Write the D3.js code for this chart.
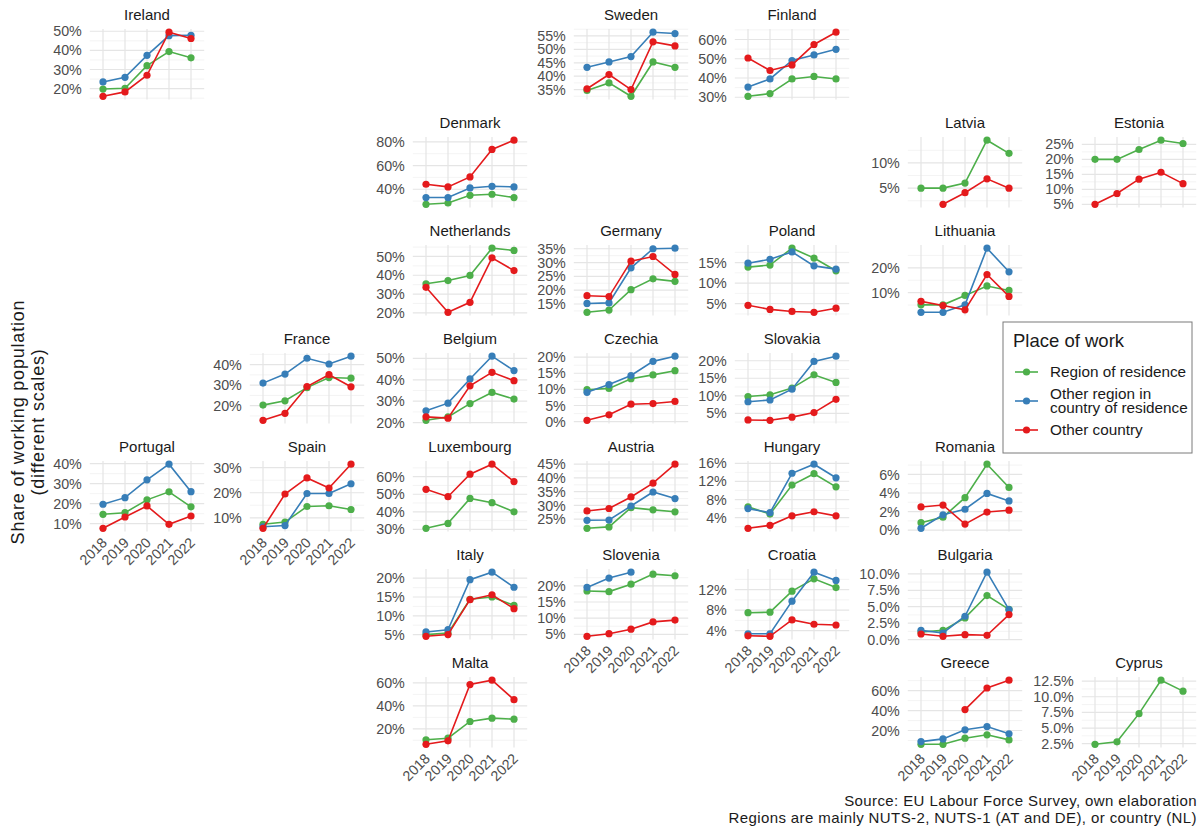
<!DOCTYPE html>
<html>
<head>
<meta charset="utf-8">
<script src="https://cdn.jsdelivr.net/npm/d3@7"></script>
<style>
  body { margin: 0; background: #fff; }
  text { font-family: "Liberation Sans", Arial, sans-serif; }
</style>
</head>
<body>
<div id="chart"></div>
<script>
// ---- data ----
const years = ["2018", "2019", "2020", "2021", "2022"];
const seriesNames = ["Region of residence", "Other region in country of residence", "Other country"];

const countries = ["Ireland", "Sweden", "Finland", "Denmark", "Latvia", "Estonia", "Netherlands", "Germany",
    "Poland", "Lithuania", "France", "Belgium", "Czechia", "Slovakia", "Portugal", "Spain", "Luxembourg",
    "Austria", "Hungary", "Romania", "Italy", "Slovenia", "Croatia", "Bulgaria", "Malta", "Greece", "Cyprus"];

// geofacet grid (column, row) for each country
const gridCol = [0, 3, 4, 2, 5, 6, 2, 3, 4, 5, 1, 2, 3, 4, 0, 1, 2, 3, 4, 5, 2, 3, 4, 5, 2, 5, 6];
const gridRow = [0, 0, 0, 1, 1, 1, 2, 2, 2, 2, 3, 3, 3, 3, 4, 4, 4, 4, 4, 4, 5, 5, 5, 5, 6, 6, 6];

// share (%) working in region of residence
const regionOfResidence = [
    [19.8, 20.2, 32.0, 39.4, 36.1],   // Ireland
    [34.7, 37.5, 32.5, 45.3, 43.3],   // Sweden
    [30.5, 31.9, 39.5, 40.8, 39.5],   // Finland
    [27.3, 28.4, 34.9, 35.8, 33.0],   // Denmark
    [5.0, 5.0, 6.0, 14.5, 11.9],      // Latvia
    [20.0, 20.0, 23.3, 26.4, 25.3],   // Estonia
    [35.5, 37.2, 39.9, 54.4, 53.2],   // Netherlands
    [12.0, 12.8, 20.2, 24.1, 23.2],   // Germany
    [13.9, 14.4, 18.5, 16.1, 13.0],   // Poland
    [5.1, 5.1, 8.9, 12.7, 10.9],      // Lithuania
    [20.3, 22.4, 28.8, 33.7, 33.4],   // France
    [21.1, 22.7, 28.9, 34.1, 31.0],   // Belgium
    [9.9, 10.3, 13.3, 14.5, 15.8],    // Czechia
    [9.8, 10.3, 12.2, 16.0, 13.8],    // Slovakia
    [14.7, 15.5, 21.9, 25.9, 18.4],   // Portugal
    [7.4, 8.3, 14.5, 14.8, 13.3],     // Spain
    [30.6, 33.4, 47.6, 45.2, 40.0],   // Luxembourg
    [21.7, 22.2, 29.2, 28.4, 27.7],   // Austria
    [6.4, 4.8, 11.2, 13.7, 10.8],     // Hungary
    [0.8, 1.4, 3.5, 7.1, 4.6],        // Romania
    [5.0, 5.4, 14.4, 15.0, 12.8],     // Italy
    [18.4, 18.2, 20.5, 23.6, 23.1],   // Slovenia
    [7.5, 7.6, 11.7, 14.1, 12.4],     // Croatia
    [1.15, 1.4, 3.3, 6.7, 4.6],       // Bulgaria
    [10.4, 11.8, 26.4, 29.3, 28.4],   // Malta
    [6.2, 6.2, 12.3, 15.7, 10.6],     // Greece
    [2.4, 2.8, 7.3, 12.65, 10.9]      // Cyprus
];

// share (%) working in another region of the country of residence
const otherRegion = [
    [23.5, 25.9, 37.4, 47.7, 47.9],
    [43.3, 45.3, 47.3, 56.4, 55.9],
    [35.3, 39.5, 49.1, 52.0, 54.9],
    [33.0, 33.0, 41.1, 42.5, 42.0],
    null,
    null,
    null,
    [15.2, 15.4, 28.1, 35.0, 35.2],
    [14.85, 15.8, 17.6, 14.2, 13.4],
    [2.1, 2.1, 5.1, 27.9, 18.4],
    [31.0, 35.4, 43.1, 40.3, 44.1],
    [25.5, 29.1, 40.4, 51.0, 44.3],
    [9.1, 11.5, 14.3, 18.7, 20.3],
    [8.3, 8.8, 11.9, 19.8, 21.3],
    [19.7, 23.0, 31.9, 39.7, 26.0],
    [6.4, 6.9, 19.7, 19.7, 23.6],
    null,
    [24.6, 24.7, 29.8, 34.9, 32.5],
    [6.0, 5.1, 13.8, 15.8, 12.8],
    [0.2, 1.65, 2.25, 3.95, 3.15],
    [5.7, 6.3, 19.6, 21.6, 17.6],
    [19.5, 22.4, 24.2, null, null],
    [3.4, 3.4, 9.75, 15.4, 13.8],
    [1.4, 1.0, 3.55, 10.25, 4.55],
    null,
    [8.9, 11.6, 20.7, 24.0, 16.7],
    null
];

// share (%) working in another country
const otherCountry = [
    [16.0, 18.3, 27.0, 49.5, 46.2],
    [35.3, 40.6, 35.0, 52.8, 51.3],
    [50.4, 43.9, 46.8, 57.4, 63.8],
    [44.2, 42.0, 50.4, 73.6, 81.4],
    [null, 1.8, 4.1, 6.85, 5.0],
    [5.0, 8.6, 13.4, 15.7, 11.9],
    [33.6, 20.3, 25.6, 49.3, 42.5],
    [18.0, 17.7, 30.5, 32.2, 25.7],
    [4.6, 3.6, 3.1, 2.9, 3.9],
    [6.5, 4.8, 3.1, 17.3, 8.5],
    [12.9, 16.3, 29.3, 35.1, 29.2],
    [22.7, 22.1, 37.2, 43.5, 39.6],
    [0.4, 2.1, 5.4, 5.6, 6.25],
    [3.1, 3.0, 3.9, 5.2, 9.0],
    [7.7, 13.35, 18.85, 9.7, 13.85],
    [5.8, 19.5, 25.9, 21.9, 31.4],
    [52.8, 48.6, 61.4, 67.1, 57.2],
    [28.0, 28.9, 33.1, 38.1, 45.0],
    [1.65, 2.3, 4.4, 5.3, 4.4],
    [2.5, 2.7, 0.65, 1.95, 2.15],
    [4.55, 5.0, 14.3, 15.6, 11.9],
    [4.4, 5.2, 6.6, 8.85, 9.4],
    [3.0, 2.9, 6.1, 5.25, 5.1],
    [0.85, 0.5, 0.75, 0.65, 3.8],
    [6.5, 9.5, 58.6, 62.4, 45.4],
    [null, null, 41.0, 62.6, 70.4],
    null
];

// y tick labels (%) of each panel
const yTicks = [
    [20, 30, 40, 50], [35, 40, 45, 50, 55], [30, 40, 50, 60], [40, 60, 80], [5, 10],
    [5, 10, 15, 20, 25], [20, 30, 40, 50], [15, 20, 25, 30, 35], [5, 10, 15], [10, 20],
    [20, 30, 40], [20, 30, 40, 50], [0, 5, 10, 15, 20], [5, 10, 15, 20], [10, 20, 30, 40],
    [10, 20, 30], [30, 40, 50, 60], [25, 30, 35, 40, 45], [4, 8, 12, 16], [0, 2, 4, 6],
    [5, 10, 15, 20], [5, 10, 15, 20], [4, 8, 12], [0, 2.5, 5, 7.5, 10], [20, 40, 60],
    [20, 40, 60], [2.5, 5, 7.5, 10, 12.5]
];

// ---- layout ----
const colors = ["#4DAF4A", "#377EB8", "#E41A1C"];
const colLeft = [89.8, 249.8, 412.8, 573.8, 734.8, 907.8, 1081.8];
const panelW = 114.4, panelH = 70.5, rowTop = 29, rowStep = 108;

const svg = d3.select("#chart").append("svg")
    .attr("width", 1201)
    .attr("height", 829);

const allSeries = [regionOfResidence, otherRegion, otherCountry];

countries.forEach((name, i) => {
    let c = gridCol[i], r = gridRow[i];
    let left = colLeft[c], top = rowTop + r * rowStep;

    let g = svg.append("g").attr("transform", `translate(${left},${top})`);

    let x = d3.scalePoint().domain(years).range([0, panelW]).padding(0.6);

    // free y scale, 5% expansion like ggplot
    let vals = [];
    allSeries.forEach(s => { if (s[i]) s[i].forEach(v => { if (v != null) vals.push(v); }); });
    let ext = d3.extent(vals);
    let pad = (ext[1] - ext[0]) * 0.05;
    let y = d3.scaleLinear().domain([ext[0] - pad, ext[1] + pad]).range([panelH, 0]);

    let ticks = yTicks[i];
    let step = ticks[1] - ticks[0];
    let minor = [];
    for (let k = -1; k < ticks.length; k++) {
        let m = (k < 0 ? ticks[0] - step / 2 : ticks[k] + step / 2);
        if (m >= y.domain()[0] && m <= y.domain()[1]) minor.push(m);
    }

    // grid
    g.selectAll(".minor").data(minor).enter().append("line")
        .attr("x1", 0).attr("x2", panelW)
        .attr("y1", d => y(d)).attr("y2", d => y(d))
        .attr("stroke", "#ececec").attr("stroke-width", 0.6);
    g.selectAll(".major").data(ticks).enter().append("line")
        .attr("x1", 0).attr("x2", panelW)
        .attr("y1", d => y(d)).attr("y2", d => y(d))
        .attr("stroke", "#e5e5e5").attr("stroke-width", 1.2);
    g.selectAll(".vgrid").data(years).enter().append("line")
        .attr("x1", d => x(d)).attr("x2", d => x(d))
        .attr("y1", 0).attr("y2", panelH)
        .attr("stroke", "#e5e5e5").attr("stroke-width", 1.2);

    // y axis labels
    let decimals = ticks.some(t => t % 1 !== 0);
    let yAxis = d3.axisLeft(y).tickValues(ticks).tickSize(0).tickPadding(8)
        .tickFormat(d => (decimals ? d.toFixed(1) : d3.format("d")(d)) + "%");
    let ya = g.append("g").call(yAxis);
    ya.select(".domain").remove();
    ya.selectAll("text").attr("fill", "#4d4d4d").style("font-size", "14.3px")
        .style("font-family", '"Liberation Sans", Arial, sans-serif');

    // strip title
    g.append("text")
        .attr("x", panelW / 2).attr("y", -9)
        .attr("text-anchor", "middle")
        .attr("fill", "#1a1a1a").style("font-size", "15px")
        .text(name);

    // x labels only at the bottom of each column
    let below = countries.some((n2, j) => gridCol[j] === c && gridRow[j] > r);
    if (!below) {
        g.selectAll(".xlab").data(years).enter().append("text")
            .attr("transform", d => `translate(${x(d) + 5},${panelH + 12}) rotate(-45)`)
            .attr("text-anchor", "end")
            .attr("fill", "#4d4d4d").style("font-size", "14.3px")
            .text(d => d);
    }

    // series
    allSeries.forEach((s, si) => {
        if (!s[i]) return;
        let pts = years.map((yr, k) => ({yr: yr, v: s[i][k]}));
        let line = d3.line().defined(d => d.v != null).x(d => x(d.yr)).y(d => y(d.v));
        g.append("path").datum(pts)
            .attr("d", line).attr("fill", "none")
            .attr("stroke", colors[si]).attr("stroke-width", 1.6);
        g.selectAll(".pt" + si).data(pts.filter(d => d.v != null)).enter().append("circle")
            .attr("cx", d => x(d.yr)).attr("cy", d => y(d.v))
            .attr("r", 3.6).attr("fill", colors[si]);
    });
});

// y axis title
svg.append("text")
    .attr("transform", "translate(24,422) rotate(-90)")
    .attr("text-anchor", "middle").attr("fill", "#1a1a1a")
    .style("font-size", "18px").style("letter-spacing", "0.8px")
    .text("Share of working population");
svg.append("text")
    .attr("transform", "translate(44,422) rotate(-90)")
    .attr("text-anchor", "middle").attr("fill", "#1a1a1a")
    .style("font-size", "18px").style("letter-spacing", "0.8px")
    .text("(different scales)");

// legend
let lg = svg.append("g").attr("transform", "translate(1003,322)");
lg.append("rect").attr("width", 189).attr("height", 131)
    .attr("fill", "#fff").attr("stroke", "#7a7a7a").attr("stroke-width", 1);
lg.append("text").attr("x", 10).attr("y", 25).attr("fill", "#1a1a1a")
    .style("font-size", "18.5px").text("Place of work");
let keyY = [50, 79, 108];
let keyLines = [["Region of residence"], ["Other region in", "country of residence"], ["Other country"]];
seriesNames.forEach((s, k) => {
    lg.append("line").attr("x1", 12).attr("x2", 35).attr("y1", keyY[k]).attr("y2", keyY[k])
        .attr("stroke", colors[k]).attr("stroke-width", 1.6);
    lg.append("circle").attr("cx", 23.5).attr("cy", keyY[k]).attr("r", 3.6).attr("fill", colors[k]);
    let t = lg.append("text").attr("x", 47).attr("fill", "#1a1a1a").style("font-size", "15.3px");
    let lines = keyLines[k];
    lines.forEach((ln, j) => {
        t.append("tspan").attr("x", 47)
            .attr("y", keyY[k] + 5 + (j - (lines.length - 1) / 2) * 14.5)
            .text(ln);
    });
});

// caption
svg.append("text").attr("x", 1197).attr("y", 806).attr("text-anchor", "end")
    .attr("fill", "#1a1a1a").style("font-size", "15px").style("letter-spacing", "0.4px")
    .text("Source: EU Labour Force Survey, own elaboration");
svg.append("text").attr("x", 1197).attr("y", 823).attr("text-anchor", "end")
    .attr("fill", "#1a1a1a").style("font-size", "15px").style("letter-spacing", "0.4px")
    .text("Regions are mainly NUTS-2, NUTS-1 (AT and DE), or country (NL)");
</script>
</body>
</html>
